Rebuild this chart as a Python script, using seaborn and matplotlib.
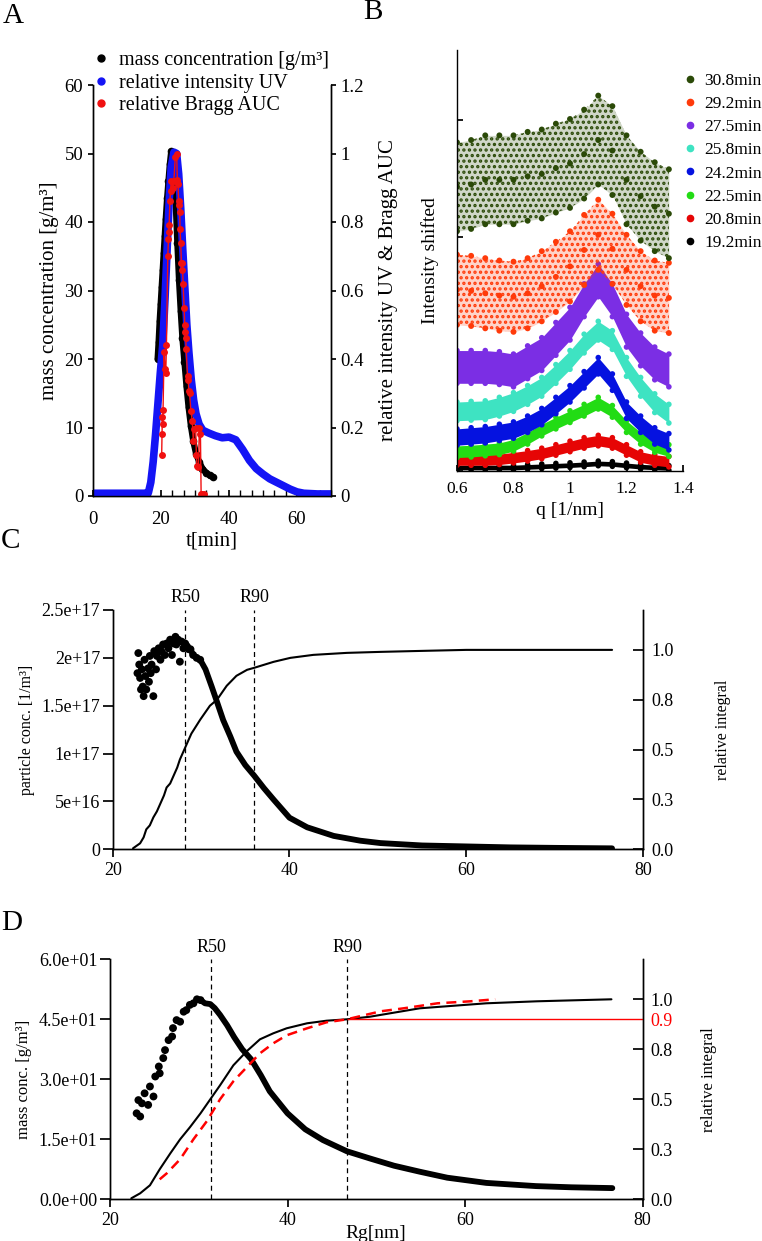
import numpy as np
import matplotlib
matplotlib.use("Agg")
import matplotlib.pyplot as plt
import matplotlib.ticker as ticker
from matplotlib.lines import Line2D
from matplotlib.transforms import blended_transform_factory
import seaborn as sns

# ---------------- panel A: elution profiles ----------------
t_mass = [19.0, 19.3, 19.6, 19.9, 20.2, 20.5, 20.8, 21.1, 21.4, 21.8,
          22.2, 22.6, 23.0, 23.4, 23.8, 24.3, 24.8, 25.3, 25.8, 26.3,
          26.9, 27.5, 28.1, 28.8, 29.5, 30.3, 31.2, 32.2, 33.3, 34.3, 35.2]
mass_conc = [20.0, 22.5, 25.5, 28.0, 30.5, 33.0, 35.5, 38.0, 40.5, 43.5,
             46.0, 48.5, 50.3, 50.0, 47.5, 43.0, 37.0, 31.5, 27.0, 23.0,
             19.5, 16.0, 13.0, 10.2, 8.0, 6.2, 5.0, 4.0, 3.4, 3.0, 2.8]

t_uv = [0, 5, 10, 15, 16.3, 17.0, 17.7, 18.4, 19.1, 19.8,
        20.5, 21.2, 21.8, 22.4, 23.0, 23.8, 24.6, 25.2, 25.8, 26.4,
        27.0, 27.6, 28.2, 28.9, 29.6, 30.3, 31.2, 32.3, 34.0, 36.0,
        38.0, 40.0, 42.0, 44.0, 46.0, 48.0, 50.0, 52.0, 54.0, 56.0,
        58.0, 60.0, 62.0, 66.0, 70.0]
uv_rel = [0.008, 0.008, 0.008, 0.008, 0.01, 0.04, 0.10, 0.18, 0.27, 0.36,
          0.44, 0.58, 0.72, 0.86, 0.96, 1.004, 1.0, 0.94, 0.84, 0.72,
          0.61, 0.50, 0.42, 0.34, 0.28, 0.24, 0.21, 0.192, 0.184, 0.176,
          0.17, 0.172, 0.164, 0.136, 0.104, 0.08, 0.064, 0.05, 0.04, 0.03,
          0.02, 0.012, 0.008, 0.006, 0.006]

t_bragg = [20.2, 20.3, 20.4, 20.5, 20.6, 20.9, 21.2, 21.4, 21.6, 22.0,
           22.2, 22.3, 22.4, 22.6, 22.8, 23.0, 23.4, 23.8, 24.2, 24.6,
           24.8, 25.0, 25.2, 25.4, 25.5, 25.6, 25.8, 26.0, 26.1, 26.3,
           26.5, 26.8, 27.0, 27.2, 27.3, 27.4, 27.8, 28.0, 28.2, 28.4,
           28.8, 29.2, 29.5, 29.8, 30.2, 30.4, 30.6, 31.0, 31.3, 31.6,
           31.8, 32.2, 32.5]
bragg_rel = [0.12, 0.18, 0.23, 0.21, 0.25, 0.42, 0.37, 0.36, 0.44, 0.70,
             0.75, 0.77, 0.79, 0.86, 0.89, 0.92, 0.90, 0.92, 0.99, 1.00,
             0.924, 0.91, 0.86, 0.85, 0.83, 0.78, 0.74, 0.68, 0.66, 0.68,
             0.62, 0.55, 0.50, 0.48, 0.46, 0.43, 0.35, 0.34, 0.306, 0.30,
             0.248, 0.22, 0.16, 0.196, 0.20, 0.12, 0.088, 0.084, 0.20, 0.18,
             0.006, 0.006, 0.006]

# ---------------- panel B: shifted Bragg peaks ----------------
b_q = [0.60, 0.65, 0.70, 0.75, 0.80, 0.85, 0.90, 0.95,
       1.00, 1.05, 1.10, 1.15, 1.20, 1.25, 1.30, 1.35]
b_labels = ["30.8min", "29.2min", "27.5min", "25.8min",
            "24.2min", "22.5min", "20.8min", "19.2min"]
b_colors = ["#2b4a08", "#ff3a0a", "#7b2ee4", "#3ee3c2",
            "#0512e0", "#22dc14", "#e60505", "#000000"]
b_mid = [
    [2.43, 2.45, 2.49, 2.49, 2.49, 2.52, 2.54, 2.59, 2.63, 2.71, 2.83, 2.74, 2.49, 2.35, 2.26, 2.20],
    [1.55, 1.54, 1.52, 1.50, 1.49, 1.52, 1.58, 1.66, 1.75, 1.89, 2.02, 1.90, 1.72, 1.58, 1.50, 1.48],
    [0.89, 0.89, 0.89, 0.88, 0.86, 0.93, 1.00, 1.13, 1.26, 1.46, 1.63, 1.46, 1.20, 1.04, 0.92, 0.86],
    [0.51, 0.515, 0.52, 0.55, 0.59, 0.65, 0.72, 0.83, 0.95, 1.09, 1.20, 1.12, 0.89, 0.72, 0.58, 0.49],
    [0.29, 0.30, 0.31, 0.33, 0.35, 0.40, 0.465, 0.56, 0.66, 0.78, 0.90, 0.76, 0.52, 0.40, 0.30, 0.25],
    [0.165, 0.17, 0.18, 0.19, 0.22, 0.28, 0.35, 0.41, 0.465, 0.52, 0.58, 0.51, 0.38, 0.28, 0.21, 0.175],
    [0.094, 0.094, 0.094, 0.10, 0.114, 0.13, 0.15, 0.18, 0.21, 0.24, 0.26, 0.24, 0.18, 0.12, 0.094, 0.08],
    [0.03, 0.03, 0.03, 0.03, 0.03, 0.035, 0.04, 0.045, 0.05, 0.057, 0.065, 0.06, 0.048, 0.037, 0.031, 0.026],
]
b_half = [0.38, 0.30, 0.14, 0.08, 0.07, 0.05, 0.045, 0.02]

# ---------------- panel C: particle concentration ----------------
c_rg = [22.8, 22.9, 23.0, 23.1, 23.2, 23.3, 23.4, 23.5, 23.6, 23.7,
        23.8, 24.0, 24.1, 24.2, 24.3, 24.4, 24.6, 24.7, 24.9, 25.0,
        25.2, 25.4, 25.5, 25.7, 25.9, 26.1, 26.3, 26.5, 26.7, 26.9,
        27.1, 27.2, 27.4, 27.6, 27.8, 28.0, 28.2, 28.4, 28.6, 28.8,
        29.1, 29.5, 29.9, 30.5, 31.2, 31.8, 32.5, 33.3, 34.0, 35.0,
        36.0, 37.1, 38.2, 40.0, 42.0, 45.0, 48.0, 50.3, 55.0, 60.0,
        65.0, 70.0, 76.5]
c_conc_e17 = [1.84, 2.05, 1.93, 1.79, 1.67, 1.88, 1.70, 1.60, 1.98, 1.81,
              1.67, 1.89, 1.75, 2.02, 1.84, 1.93, 1.60, 2.07, 1.88, 2.02,
              2.10, 1.98, 2.07, 2.14, 2.03, 2.15, 2.10, 2.19, 2.03, 2.15,
              2.22, 2.14, 2.19, 1.96, 2.17, 2.10, 2.15, 2.12, 2.09, 2.09,
              2.03, 2.00, 1.98, 1.88, 1.70, 1.54, 1.35, 1.18, 1.02, 0.88,
              0.77, 0.64, 0.52, 0.33, 0.23, 0.14, 0.09, 0.065, 0.04, 0.03,
              0.02, 0.015, 0.01]
c_cum_rg = [22.3, 23.1, 23.5, 23.8, 24.2, 24.6, 25.0, 25.4, 25.8, 26.1,
            26.5, 26.9, 27.3, 27.6, 28.2, 28.9, 29.9, 31.0, 31.8, 32.9,
            34.0, 35.2, 36.0, 38.2, 40.1, 42.7, 46.5, 50.3, 55.0, 60.0,
            70.0, 76.5]
c_cum_rel = [0.005, 0.03, 0.06, 0.10, 0.12, 0.16, 0.19, 0.23, 0.27, 0.31,
             0.33, 0.37, 0.41, 0.45, 0.51, 0.58, 0.65, 0.72, 0.75, 0.82,
             0.87, 0.90, 0.91, 0.94, 0.96, 0.975, 0.985, 0.99, 0.995, 1.0,
             1.0, 1.0]
c_r50, c_r90 = 28.2, 36.0

# ---------------- panel D: mass concentration ----------------
d_rg = [23.0, 23.2, 23.4, 23.6, 23.9, 24.3, 24.5, 24.9, 25.1, 25.5,
        25.6, 26.0, 26.2, 26.6, 27.0, 27.1, 27.5, 27.9, 28.3, 28.6,
        29.0, 29.4, 29.8, 30.2, 30.7, 31.3, 31.8, 32.4, 33.2, 34.0,
        34.9, 35.9, 37.0, 38.0, 40.0, 42.0, 44.0, 46.7, 49.3, 52.0,
        54.9, 58.0, 62.4, 68.0, 72.0, 76.6]
d_mass = [21.5, 24.8, 20.7, 24.0, 26.5, 23.6, 28.2, 25.7, 30.7, 33.2,
          31.5, 35.3, 37.3, 39.8, 40.7, 42.8, 44.8, 44.4, 46.9, 47.3,
          48.6, 49.0, 50.0, 49.8, 49.0, 48.8, 47.8, 46.1, 43.5, 40.5,
          37.5, 35.0, 31.0, 27.0, 21.5, 17.5, 14.8, 12.0, 10.2, 8.4,
          6.9, 5.4, 4.1, 3.3, 3.0, 2.8]
d_cum_rg = [22.4, 23.4, 24.5, 25.6, 26.8, 27.9, 29.0, 30.2, 31.3, 32.4,
            33.9, 35.4, 36.9, 38.4, 39.9, 42.2, 44.4, 46.7, 49.3, 54.9,
            62.4, 68.1, 76.5]
d_cum_rel = [0.005, 0.03, 0.07, 0.15, 0.23, 0.30, 0.36, 0.43, 0.50, 0.57,
             0.67, 0.74, 0.80, 0.83, 0.855, 0.88, 0.893, 0.90, 0.913, 0.955,
             0.98, 0.99, 1.0]
d_red_rg = [25.6, 26.4, 27.9, 29.4, 30.9, 32.4, 33.9, 35.4, 36.9, 38.4,
            39.9, 42.2, 44.4, 46.7, 50.5, 53.1, 56.9, 60.6, 63.4]
d_red_rel = [0.10, 0.13, 0.20, 0.30, 0.39, 0.50, 0.59, 0.66, 0.73, 0.78,
             0.82, 0.855, 0.885, 0.90, 0.94, 0.955, 0.98, 0.99, 1.0]
d_r50, d_r90 = 31.4, 46.7
d_level = 0.9

rel_ticks = [0, 0.25, 0.5, 0.75, 1.0]
rel_labels = ["0.0", "0.3", "0.5", "0.8", "1.0"]

sns.set_theme(style="ticks", rc={"axes.edgecolor": "black", "text.color": "black",
                                 "axes.labelcolor": "black", "xtick.color": "black",
                                 "ytick.color": "black", "axes.linewidth": 1.0})
plt.rcParams["font.family"] = ["Liberation Serif", "DejaVu Serif"]
plt.rcParams["hatch.linewidth"] = 1.6

W, H = 762, 1241
fig = plt.figure(figsize=(W / 100, H / 100), dpi=100)


def add_ax(l, t, r, b):
    return fig.add_axes([l / W, 1 - b / H, (r - l) / W, (b - t) / H])


def no_top(*axs):
    for a in axs:
        a.spines["top"].set_visible(False)


# ======== A ========
axA = add_ax(93, 85, 331, 496)
axA2 = axA.twinx()
sns.lineplot(x=t_mass, y=mass_conc, ax=axA, color="black", linewidth=4.5,
             marker="o", markersize=5.5, markeredgewidth=0, estimator=None, sort=False)
sns.lineplot(x=t_uv, y=uv_rel, ax=axA2, color="#1414f5", linewidth=5.5,
             estimator=None, sort=False)
sns.lineplot(x=t_bragg, y=bragg_rel, ax=axA2, color="#f01010", linewidth=1,
             marker="o", markersize=5, markeredgewidth=0, estimator=None, sort=False)
axA.set_xlim(0, 70)
axA.set_ylim(0, 60)
axA2.set_ylim(0, 1.2)
axA.set_xticks([0, 20, 40, 60])
axA.xaxis.set_minor_locator(ticker.MultipleLocator(10 / 3))
axA.set_yticks(range(0, 61, 10))
axA2.set_yticks([0, 0.2, 0.4, 0.6, 0.8, 1.0, 1.2])
axA2.yaxis.set_major_formatter(ticker.FuncFormatter(lambda v, p: "%g" % round(v, 2)))
axA.tick_params(axis="x", which="both", direction="in", length=4, pad=11, labelsize=13.5)
axA.tick_params(axis="y", direction="out", length=3.5, labelsize=13.5)
axA2.tick_params(axis="y", direction="out", length=3.5, labelsize=13.5)
axA.set_xlabel("t[min]", fontsize=15, labelpad=2)
axA.set_ylabel("mass concentration [g/m³]", fontsize=15, labelpad=4)
axA2.set_ylabel("relative intensity UV & Bragg AUC", fontsize=15, labelpad=11)
no_top(axA, axA2)
a_handles = [Line2D([], [], ls="", marker="o", markersize=5, color=c)
             for c in ["black", "#1414f5", "#f01010"]]
fig.legend(a_handles, ["mass concentration [g/m³]", "relative intensity UV",
                       "relative Bragg AUC"],
           loc="upper left", bbox_to_anchor=(93 / W, 1 - 51 / H), frameon=False,
           fontsize=14.5, handlelength=0.8, handletextpad=0.5, labelspacing=0.17,
           borderpad=0, borderaxespad=0)

# ======== B ========
axB = add_ax(457, 50, 683, 471)
for i in range(len(b_labels) - 1, -1, -1):
    mid = np.array(b_mid[i])
    lo, hi = mid - b_half[i], mid + b_half[i]
    c = b_colors[i]
    if b_half[i] < 0.2:
        axB.fill_between(b_q, lo, hi, color=c, lw=0)
        sns.scatterplot(x=b_q + b_q, y=list(lo) + list(hi), ax=axB, color=c,
                        s=16, edgecolor="none", legend=False)
    else:
        # sparse cloud: light wash + dotted hatch + read points
        axB.fill_between(b_q, lo, hi, color=c, alpha=0.22, lw=0)
        axB.fill_between(b_q, lo, hi, facecolor="none", edgecolor=c, hatch="...", lw=0)
        sns.scatterplot(x=b_q * 3, y=list(lo) + list(mid) + list(hi), ax=axB,
                        color=c, s=18, edgecolor="none", legend=False)
axB.set_xlim(0.6, 1.4)
axB.set_ylim(0, 3.6)
axB.set_xticks([0.6, 0.8, 1.0, 1.2, 1.4])
axB.set_xticklabels(["0.6", "0.8", "1", "1.2", "1.4"])
axB.set_yticks([0, 1, 2, 3])
axB.set_yticklabels([])
axB.tick_params(axis="both", direction="in", length=4, labelsize=12.5, pad=7)
axB.set_xlabel("q [1/nm]", fontsize=14, labelpad=4)
axB.set_ylabel("Intensity shifted", fontsize=14, labelpad=6)
axB.spines["right"].set_visible(False)
no_top(axB)
b_handles = [Line2D([], [], ls="", marker="o", markersize=4.5, color=c) for c in b_colors]
fig.legend(b_handles, b_labels, loc="upper left", bbox_to_anchor=(685 / W, 1 - 73 / H),
           frameon=False, fontsize=12.5, handlelength=0.6, handletextpad=0.5,
           labelspacing=0.4, borderpad=0, borderaxespad=0)


def size_panel(ax, ax2, rg, conc, noisy_max, line_min, cum_rg, cum_rel, r50, r90):
    rg = np.array(rg)
    conc = np.array(conc)
    keep = rg <= noisy_max
    sns.scatterplot(x=rg[keep], y=conc[keep], ax=ax, color="black", s=32,
                    edgecolor="none", legend=False)
    keep = rg >= line_min
    sns.lineplot(x=rg[keep], y=conc[keep], ax=ax, color="black", linewidth=4.2,
                 estimator=None, sort=False)
    sns.lineplot(x=cum_rg, y=cum_rel, ax=ax2, color="black", linewidth=1.5,
                 estimator=None, sort=False)
    trans = blended_transform_factory(ax.transData, ax.transAxes)
    for r, lab in [(r50, "R50"), (r90, "R90")]:
        ax.axvline(r, color="black", lw=0.9, ls=(0, (4, 3)))
        ax.text(r, 1.015, lab, transform=trans, ha="center", va="bottom", fontsize=13)
    ax.set_xlim(20, 80)
    ax.set_xticks([20, 40, 60, 80])
    ax2.set_ylim(0, 1.2)
    ax.tick_params(axis="x", direction="out", length=6, labelsize=13, pad=3)
    ax.tick_params(axis="y", direction="out", length=7, labelsize=13, pad=2)
    ax2.tick_params(axis="y", direction="in", length=7, labelsize=13, pad=6)
    no_top(ax, ax2)


# ======== C ========
axC = add_ax(112.7, 610, 643, 849.3)
axC2 = axC.twinx()
size_panel(axC, axC2, c_rg, np.array(c_conc_e17) * 1e17, 30.0, 28.8,
           c_cum_rg, c_cum_rel, c_r50, c_r90)
axC.set_ylim(0, 2.5e17)
axC.set_yticks([0, 5e16, 1e17, 1.5e17, 2e17, 2.5e17])
axC.yaxis.set_major_formatter(ticker.FuncFormatter(lambda v, p: "%g" % v))
axC2.set_yticks(rel_ticks)
axC2.set_yticklabels(rel_labels)
axC.set_ylabel("particle conc. [1/m³]", fontsize=11.5, labelpad=5)
axC2.set_ylabel("relative integral", fontsize=11.5, labelpad=30)

# ======== D ========
axD = add_ax(110, 959.3, 642.5, 1199.3)
axD2 = axD.twinx()
size_panel(axD, axD2, d_rg, d_mass, 30.4, 29.8, d_cum_rg, d_cum_rel, d_r50, d_r90)
sns.lineplot(x=d_red_rg, y=d_red_rel, ax=axD2, color="red", linewidth=1.8,
             linestyle=(0, (4, 2.5)), estimator=None, sort=False)
axD2.hlines(d_level, d_r90, 80, color="red", lw=1)
axD.set_ylim(0, 60)
axD.set_yticks([0, 15, 30, 45, 60])
axD.yaxis.set_major_formatter(ticker.FuncFormatter(lambda v, p: "%.1e" % v))
axD2.set_yticks(rel_ticks[:4] + [d_level, 1.0])
axD2.set_yticklabels(rel_labels[:4] + ["0.9", "1.0"])
axD2.get_yticklabels()[4].set_color("red")
axD2.yaxis.get_major_ticks()[4].tick2line.set_visible(False)
axD.set_xlabel("Rg[nm]", fontsize=14)
axD.xaxis.set_label_coords(0.5, -0.105)
axD.set_ylabel("mass conc. [g/m³]", fontsize=12, labelpad=5)
axD2.set_ylabel("relative integral", fontsize=12, labelpad=20)

# panel letters
for lab, x, y in [("A", 13, 16), ("B", 373, 12), ("C", 11, 541), ("D", 12, 923)]:
    fig.text(x / W, 1 - y / H, lab, fontsize=21, ha="center", va="center")

fig.savefig("out.png", dpi=100)
